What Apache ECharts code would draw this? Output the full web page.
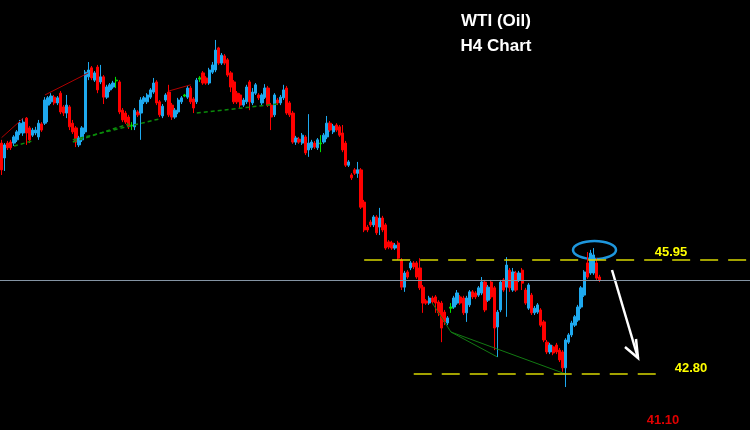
<!DOCTYPE html>
<html>
<head>
<meta charset="utf-8">
<script src="https://cdn.jsdelivr.net/npm/echarts@6/dist/echarts.min.js"></script>
<style>
html,body{margin:0;padding:0;background:#000;}
#chart{width:750px;height:430px;}
</style>
</head>
<body>
<div id="chart"></div>
<script>
// H4 candles (price, USD)
const opens = [
49.18,48.77,49.18,49.21,49.18,49.27,49.46,49.46,49.87,49.60,
49.40,49.46,49.35,49.71,49.73,50.23,50.32,50.45,50.29,50.56,
50.18,50.01,50.18,49.73,49.60,49.13,49.27,49.49,51.01,51.26,
50.92,51.28,50.87,51.01,50.45,50.65,50.73,50.90,50.87,50.09,
50.01,49.90,49.65,49.63,50.04,50.01,50.32,50.32,50.45,50.59,
50.87,50.32,49.93,50.37,50.59,50.23,49.90,50.04,50.32,50.48,
50.45,50.70,50.40,50.32,50.95,51.12,50.98,50.84,51.14,51.20,
51.81,51.39,51.59,51.48,51.12,50.87,50.56,50.51,50.23,50.32,
50.87,50.29,50.56,50.51,50.29,50.45,50.70,50.23,49.96,50.37,
50.29,50.43,50.70,50.29,50.01,49.21,49.29,49.18,49.35,48.99,
49.05,49.18,49.05,49.16,49.21,49.35,49.73,49.49,49.68,49.63,
49.46,49.18,48.57,48.30,48.44,48.35,48.44,47.55,46.86,47.00,
46.92,47.14,46.86,47.11,46.92,46.45,46.42,46.28,46.42,45.95,
45.20,45.62,45.73,45.87,45.87,45.73,45.20,44.82,44.76,44.90,
44.93,44.79,44.76,44.51,44.21,44.62,44.65,44.76,44.93,44.90,
44.49,44.71,45.07,45.04,44.98,45.04,45.34,44.84,45.34,45.18,
44.10,44.57,45.40,45.20,45.67,45.12,45.59,45.40,45.67,45.12,
44.62,44.98,44.49,44.51,44.57,44.24,43.68,43.41,43.55,43.60,
43.46,43.41,42.97,43.68,43.88,44.15,44.29,44.65,44.98,45.87,
45.59,45.59,45.87,45.48
];
const closes = [
48.44,49.13,49.05,49.05,49.35,49.49,49.73,49.76,49.46,49.27,
49.54,49.54,49.73,49.54,50.37,50.43,50.48,50.29,50.43,50.04,
50.01,50.23,49.63,49.49,49.21,49.32,49.60,51.14,51.20,50.98,
51.12,50.65,51.01,50.45,50.73,50.79,50.84,50.92,50.04,49.82,
49.76,49.63,49.68,50.09,49.96,50.37,50.43,50.51,50.65,50.84,
50.29,49.96,50.20,50.51,49.96,49.90,50.09,50.37,50.43,50.51,
50.70,50.32,50.15,50.92,50.98,50.84,50.84,51.20,51.34,51.75,
51.39,51.61,51.39,51.06,50.73,50.32,50.32,50.23,50.37,50.73,
50.32,50.59,50.79,50.43,50.51,50.70,50.23,49.90,50.51,50.29,
50.45,50.65,50.01,49.96,49.21,49.32,49.21,49.40,48.91,49.18,
49.21,49.07,49.27,49.18,49.40,49.73,49.54,49.65,49.54,49.40,
48.99,48.57,48.66,48.22,48.35,48.44,47.41,46.78,46.78,46.92,
47.14,46.70,47.11,46.78,46.28,46.31,46.28,46.36,46.00,45.20,
45.59,45.48,45.87,45.76,45.48,45.18,44.76,44.76,44.90,44.79,
44.76,44.49,44.07,44.24,44.35,44.65,44.90,45.04,44.76,44.49,
44.90,45.07,44.93,44.93,45.18,45.34,44.57,45.20,44.93,44.07,
44.51,45.34,45.12,45.81,45.18,45.62,45.12,45.59,45.31,44.76,
45.26,44.49,44.62,44.71,44.15,43.74,43.41,43.60,43.38,43.41,
43.19,42.97,43.74,43.88,44.21,44.38,44.65,45.18,45.62,45.48,
46.14,46.09,45.45,45.40
];
const lows = [
48.30,48.41,48.99,48.99,49.10,49.21,49.40,49.38,49.13,49.18,
49.35,49.40,49.27,49.49,49.68,49.76,50.26,50.23,50.23,49.98,
49.93,49.87,49.54,49.43,49.07,49.07,49.21,49.43,50.92,50.92,
50.87,50.56,50.81,50.26,50.40,50.59,50.68,50.70,49.98,49.76,
49.71,49.57,49.54,49.54,49.90,49.27,50.26,50.26,50.40,50.54,
50.23,49.90,49.87,50.32,49.90,49.82,49.85,49.98,50.26,50.45,
50.40,50.26,50.01,50.26,50.87,50.79,50.79,50.79,51.09,51.14,
51.34,51.34,51.34,51.01,50.59,50.26,50.26,50.15,50.18,50.26,
50.09,50.23,50.51,50.37,50.23,50.40,50.18,49.54,49.90,50.23,
50.23,50.37,49.96,49.90,49.16,49.13,49.16,49.13,48.85,48.80,
48.99,49.02,48.99,48.93,49.16,49.29,49.49,49.43,49.49,49.35,
48.93,48.52,48.52,48.16,48.30,48.22,47.36,46.72,46.72,46.86,
46.86,46.64,46.64,46.72,46.23,46.25,46.23,46.23,45.95,45.12,
45.07,45.43,45.67,45.70,45.43,45.12,44.49,44.71,44.71,44.73,
44.49,44.40,43.68,44.15,44.15,44.49,44.60,44.71,44.71,44.43,
44.24,44.65,44.87,44.87,44.93,44.98,44.51,44.79,44.87,43.46,
43.27,44.51,45.07,44.38,45.07,45.07,45.07,45.34,45.12,44.71,
44.57,44.43,44.43,44.46,44.10,43.68,43.35,43.35,43.32,43.35,
43.13,42.86,42.44,43.63,43.82,44.10,44.24,44.60,44.93,45.43,
45.54,45.54,45.40,45.34
];
const highs = [
49.27,49.18,49.24,49.27,49.40,49.54,49.82,49.87,49.90,49.65,
49.60,49.63,49.82,49.76,50.45,50.48,50.56,50.51,50.48,50.62,
50.23,50.51,50.23,49.82,49.65,49.38,49.65,51.20,51.42,51.31,
51.17,51.34,51.34,51.06,50.79,50.84,50.90,51.01,50.92,50.15,
50.07,49.96,49.76,50.15,50.09,50.45,50.48,50.56,50.70,50.98,
50.92,50.37,50.26,50.56,50.79,50.29,50.15,50.43,50.48,50.54,
50.76,50.76,50.45,50.98,51.03,51.17,51.03,51.26,51.42,52.03,
51.84,51.67,51.64,51.53,51.17,50.92,50.62,50.56,50.43,50.79,
50.92,50.70,50.84,50.56,50.56,50.81,50.76,50.29,50.56,50.43,
50.51,50.79,50.76,50.34,50.07,49.38,49.35,49.46,49.40,49.98,
49.27,49.24,49.32,49.40,49.46,49.93,49.79,49.71,49.73,49.68,
49.68,49.24,48.71,48.35,48.49,48.66,48.49,47.61,46.92,47.06,
47.19,47.19,47.39,47.17,46.97,46.50,46.48,46.42,46.48,46.00,
45.65,45.67,45.92,45.92,45.92,46.00,45.26,44.87,44.96,44.96,
44.98,44.84,44.82,44.57,44.40,44.76,44.96,45.12,44.98,44.96,
44.96,45.12,45.12,45.09,45.23,45.48,45.40,45.26,45.40,45.23,
44.57,45.40,45.45,46.03,45.73,45.73,45.65,45.65,45.73,45.18,
45.31,45.04,44.68,44.76,44.62,44.29,43.74,43.66,43.60,43.66,
43.52,43.46,43.79,43.93,44.27,44.43,44.71,45.23,45.67,46.17,
46.23,46.28,46.00,45.54
];
const dojiIdx = [37, 42, 59, 64, 103, 145];
const totalSlots = 242;
const categories = Array.from({length: totalSlots}, (_, i) => 'H4 #' + (i + 1));

// levels
const resistance = 45.95;
const support = 42.80;
const target = 41.10;
const bidPrice = 45.40;

// trend lines [startIdx, startPrice, endIdx, endPrice]
const redTrend = [[0,49.33,7,49.87],[14,50.51,28,51.12],[54,50.62,61,50.79]];
const greenDashTrend = [[4,49.10,10,49.24],[23,49.21,41,49.71],[23,49.27,51,49.85],[63,50.01,89,50.26]];
const greenTrend = [[139,44.76,145,43.96],[145,43.96,160,43.27],[145,43.96,182,42.80]];

const UP = '#1ea9ef', DOWN = '#ff0000', DOJI = '#00e000';
const candles = opens.map((o, i) => {
  const v = [o, closes[i], lows[i], highs[i]];
  if (dojiIdx.indexOf(i) >= 0) {
    return {value: v, itemStyle: {color: DOJI, color0: DOJI, borderColor: DOJI, borderColor0: DOJI}};
  }
  return v;
});

function seg(arr, style) {
  return arr.map(s => [
    {coord: [s[0], s[1]], lineStyle: style},
    {coord: [s[2], s[3]]}
  ]);
}

const mlData = []
  .concat(seg(redTrend, {color: '#b00000', width: 1, type: 'solid'}))
  .concat(seg(greenDashTrend, {color: '#0a8a0a', width: 1.5, type: [4, 3]}))
  .concat(seg(greenTrend, {color: '#127a12', width: 1, type: 'solid'}))
  .concat([
    {yAxis: bidPrice, lineStyle: {color: '#8494a4', width: 1, type: 'solid'}},
    [{coord: [117, resistance], lineStyle: {color: '#d8d800', width: 1.5, type: [18, 10]}}, {coord: [241, resistance]}],
    [{coord: [133, support], lineStyle: {color: '#d8d800', width: 1.5, type: [18, 10]}}, {coord: [214, support]}]
  ]);

const FONT = '"Liberation Sans", Arial, sans-serif';
const chart = echarts.init(document.getElementById('chart'), null, {renderer: 'canvas'});
chart.setOption({
  backgroundColor: '#000000',
  animation: false,
  grid: {left: 0, right: 0, top: 0, bottom: 0},
  xAxis: {type: 'category', data: categories, show: false, boundaryGap: true},
  yAxis: {type: 'value', min: 41.253, max: 53.134, show: false, splitLine: {show: false}},
  series: [{
    type: 'candlestick',
    data: candles,
    barWidth: 2.8,
    itemStyle: {color: UP, color0: DOWN, borderColor: UP, borderColor0: DOWN, borderWidth: 1},
    markLine: {
      silent: true,
      symbol: ['none', 'none'],
      label: {show: false},
      animation: false,
      data: mlData
    }
  }],
  graphic: [
    {type: 'text', x: 496, y: 21, style: {text: 'WTI (Oil)', fill: '#ffffff', font: 'bold 17px ' + FONT, textAlign: 'center', textVerticalAlign: 'middle'}, silent: true},
    {type: 'text', x: 496, y: 46, style: {text: 'H4 Chart', fill: '#ffffff', font: 'bold 17px ' + FONT, textAlign: 'center', textVerticalAlign: 'middle'}, silent: true},
    {type: 'text', x: 671, y: 252, style: {text: resistance.toFixed(2), fill: '#ffff00', font: 'bold 13px ' + FONT, textAlign: 'center', textVerticalAlign: 'middle'}, silent: true},
    {type: 'text', x: 691, y: 368, style: {text: support.toFixed(2), fill: '#ffff00', font: 'bold 13px ' + FONT, textAlign: 'center', textVerticalAlign: 'middle'}, silent: true},
    {type: 'text', x: 663, y: 420, style: {text: target.toFixed(2), fill: '#e00000', font: 'bold 13px ' + FONT, textAlign: 'center', textVerticalAlign: 'middle'}, silent: true},
    {type: 'ellipse', shape: {cx: 594.5, cy: 250, rx: 21.5, ry: 9}, style: {fill: 'none', stroke: '#1e96dc', lineWidth: 2.5}, silent: true},
    {type: 'polyline', shape: {points: [[612, 270], [638, 358]]}, style: {stroke: '#ffffff', lineWidth: 2.5, fill: 'none'}, silent: true},
    {type: 'polyline', shape: {points: [[625, 347], [638, 358], [636, 339]]}, style: {stroke: '#ffffff', lineWidth: 2.5, fill: 'none'}, silent: true}
  ]
});
</script>
</body>
</html>
